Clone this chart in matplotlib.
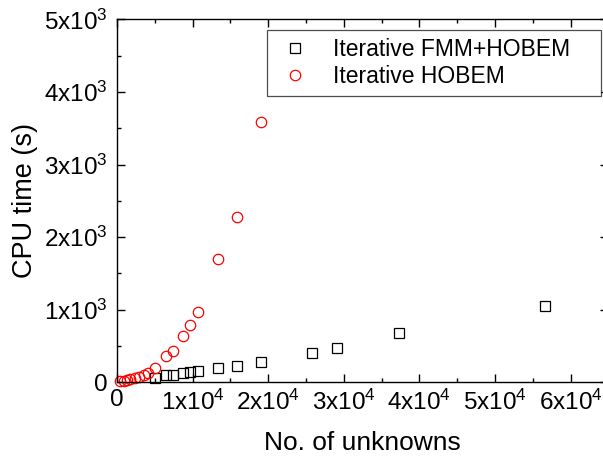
import matplotlib
matplotlib.use("Agg")
import matplotlib.pyplot as plt
from matplotlib.ticker import MultipleLocator, FixedLocator

plt.rcParams['font.family'] = ['Liberation Sans', 'DejaVu Sans']
plt.rcParams['mathtext.fontset'] = 'custom'
plt.rcParams['mathtext.rm'] = 'Liberation Sans'

# Data
fmm_x = [5000, 6480, 7360, 8730, 9660, 10680, 13420, 15810, 19100, 25830, 29140, 37300, 56610]
fmm_y = [66, 96, 107, 132, 142, 153, 200, 229, 275, 399, 472, 683, 1051]

hobem_x = [440, 890, 1320, 1760, 2340, 2870, 3530, 4100, 5000, 6480, 7360, 8730, 9660, 10680, 13420, 15810, 19100]
hobem_y = [22, 22, 32, 41, 55, 69, 101, 132, 193, 358, 431, 638, 789, 972, 1694, 2281, 3585]

x_ticks = [0, 10000, 20000, 30000, 40000, 50000, 60000]
x_labels = ["0", r"$\mathregular{1x10^{4}}$", r"$\mathregular{2x10^{4}}$", r"$\mathregular{3x10^{4}}$",
            r"$\mathregular{4x10^{4}}$", r"$\mathregular{5x10^{4}}$", r"$\mathregular{6x10^{4}}$"]
y_ticks = [0, 1000, 2000, 3000, 4000, 5000]
y_labels = ["0", r"$\mathregular{1x10^{3}}$", r"$\mathregular{2x10^{3}}$", r"$\mathregular{3x10^{3}}$",
            r"$\mathregular{4x10^{3}}$", r"$\mathregular{5x10^{3}}$"]

W, H = 603, 458
fig = plt.figure(figsize=(W / 100, H / 100), dpi=100)
ax = fig.add_axes([117 / W, (H - 382.3) / H, (608.4 - 117) / W, (382.3 - 19.3) / H])

ax.plot(fmm_x, fmm_y, linestyle='none', marker='s', markersize=6.5, markerfacecolor='none',
        markeredgecolor='black', markeredgewidth=0.9, label='Iterative FMM+HOBEM', clip_on=False)
ax.plot(hobem_x, hobem_y, linestyle='none', marker='o', markersize=7.5, markerfacecolor='none',
        markeredgecolor='#ff0000', markeredgewidth=0.9, label='Iterative HOBEM', clip_on=False)

ax.set_xlim(0, 65000)
ax.set_ylim(0, 5000)
ax.xaxis.set_major_locator(FixedLocator(x_ticks))
ax.set_xticklabels(x_labels)
ax.yaxis.set_major_locator(FixedLocator(y_ticks))
ax.set_yticklabels(y_labels)
ax.xaxis.set_minor_locator(MultipleLocator(5000))
ax.yaxis.set_minor_locator(MultipleLocator(500))

ax.tick_params(which='both', direction='in', top=True, right=True, width=1.0, labelsize=17.5)
ax.tick_params(which='major', length=6)
ax.tick_params(which='minor', length=3)
ax.tick_params(axis='x', pad=5)
ax.tick_params(axis='y', pad=7)
for s in ax.spines.values():
    s.set_linewidth(1.0)

ax.set_xlabel('No. of unknowns', fontsize=19, labelpad=12)
ax.set_ylabel('CPU time (s)', fontsize=19.5, labelpad=4)

leg = ax.legend(loc='upper left',
                bbox_to_anchor=(267 / W, (H - 97) / H, (601 - 267) / W, 67 / H),
                bbox_transform=fig.transFigure, mode='expand',
                fontsize=16.5, frameon=True, fancybox=False, edgecolor='#222222', borderpad=0.35,
                handlelength=1.7, handletextpad=0.85, labelspacing=0.18, borderaxespad=0)
leg.get_frame().set_linewidth(0.9)

fig.savefig('out.png', dpi=100)
